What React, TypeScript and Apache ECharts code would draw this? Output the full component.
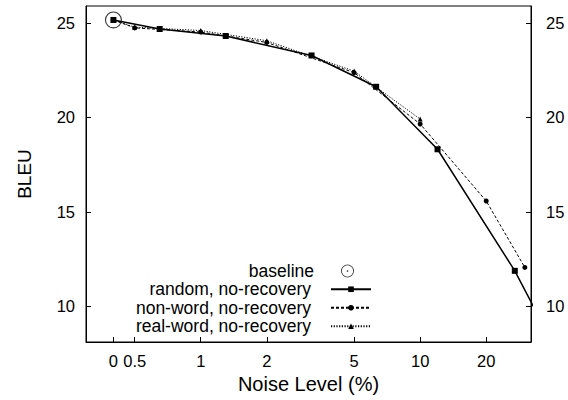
import React, { useEffect, useRef } from "react";
import * as echarts from "echarts";

// Noise level 0 is drawn at this position on the log axis
const ZERO_POS = 0.4;

const xTickValues = [0, 0.5, 1, 2, 5, 10, 20];
const yTickValues = [10, 15, 20, 25];

const baselineX = [0];
const baselineY = [25.16];

const randomX = [0, 0.65, 1.3, 3.2, 6.3, 12, 27, 50];
const randomY = [25.16, 24.68, 24.31, 23.28, 21.62, 18.31, 11.87, 5.9];

const nonWordX = [0, 0.5, 1, 2, 5, 10, 20, 30];
const nonWordY = [25.16, 24.74, 24.52, 23.97, 22.37, 19.65, 15.57, 12.05];

const realWordX = [0, 0.5, 1, 2, 5, 10];
const realWordY = [25.16, 24.78, 24.6, 24.06, 22.45, 19.91];

const pos = (v: number) => (v === 0 ? ZERO_POS : v);
const pairs = (xs: number[], ys: number[]) => xs.map((x, i) => [pos(x), ys[i]]);

const FONT = "Liberation Sans";
const RING =
  "path://M10,0 A10,10 0 1,1 10,20 A10,10 0 1,1 10,0 Z M10,1.3 A8.7,8.7 0 1,0 10,18.7 A8.7,8.7 0 1,0 10,1.3 Z M10,8.7 A1.3,1.3 0 1,1 10,11.3 A1.3,1.3 0 1,1 10,8.7 Z";

export default function App() {
  const ref = useRef<HTMLDivElement>(null);
  useEffect(() => {
    if (!ref.current) return;
    const chart = echarts.init(ref.current, undefined, { renderer: "svg" });
    const yAxisCommon = {
      type: "value" as const,
      min: 8.1,
      max: 25.9,
      splitLine: { show: false },
      axisLine: { show: true, lineStyle: { color: "#000", width: 1 } },
      axisTick: { show: true, inside: true, length: 5, customValues: yTickValues, lineStyle: { color: "#000" } },
    };
    chart.setOption({
      animation: false,
      backgroundColor: "#fff",
      textStyle: { fontFamily: FONT, color: "#000" },
      grid: { left: 86, right: 37, top: 6, bottom: 58, show: true, borderColor: "#000", borderWidth: 1, containLabel: false },
      xAxis: {
        type: "log",
        min: 0.3,
        max: 32,
        name: "Noise Level (%)",
        nameLocation: "middle",
        nameGap: 30,
        nameTextStyle: { fontFamily: FONT, fontSize: 20, color: "#000" },
        splitLine: { show: false },
        axisLine: { show: true, lineStyle: { color: "#000", width: 1 } },
        axisTick: { show: true, inside: true, length: 5, customValues: xTickValues.map(pos), lineStyle: { color: "#000" } },
        axisLabel: {
          customValues: xTickValues.map(pos),
          margin: 10,
          fontFamily: FONT,
          fontSize: 16.5,
          color: "#000",
          formatter: (v: number) => (Math.abs(v - ZERO_POS) < 0.01 ? "0" : String(Math.round(v * 10) / 10)),
        },
      },
      yAxis: [
        {
          ...yAxisCommon,
          position: "left",
          name: "BLEU",
          nameLocation: "middle",
          nameGap: 52,
          nameRotate: 90,
          nameTextStyle: { fontFamily: FONT, fontSize: 19, color: "#000" },
          axisLabel: { customValues: yTickValues, margin: 11, fontFamily: FONT, fontSize: 16.5, color: "#000" },
        },
        {
          ...yAxisCommon,
          position: "right",
          axisLabel: { customValues: yTickValues, margin: 15, fontFamily: FONT, fontSize: 16.5, color: "#000" },
        },
      ],
      legend: [
        {
          data: ["baseline"],
          orient: "vertical",
          align: "right",
          right: 214,
          top: 262,
          padding: 0,
          itemGap: 0,
          itemWidth: 13,
          itemHeight: 13,
          icon: RING,
          textStyle: { fontFamily: FONT, fontSize: 17.5, color: "#000", lineHeight: 16, padding: [0, 22, 0, 0] },
        },
        {
          data: ["random, no-recovery", "non-word, no-recovery", "real-word, no-recovery"],
          orient: "vertical",
          align: "right",
          right: 196,
          top: 280,
          padding: 0,
          itemGap: 0,
          itemWidth: 40,
          itemHeight: 7,
          textStyle: { fontFamily: FONT, fontSize: 17.5, color: "#000", lineHeight: 18.5, padding: [0, 15, 0, 0] },
        },
      ],
      series: [
        {
          name: "baseline",
          type: "scatter",
          data: pairs(baselineX, baselineY),
          symbol: RING,
          symbolSize: 17,
          itemStyle: { color: "#000" },
          z: 5,
        },
        {
          name: "non-word, no-recovery",
          type: "line",
          data: pairs(nonWordX, nonWordY),
          symbol: "circle",
          symbolSize: 5,
          clip: true,
          itemStyle: { color: "#000" },
          lineStyle: { color: "#000", width: 1, type: [3, 2] },
          z: 3,
        },
        {
          name: "real-word, no-recovery",
          type: "line",
          data: pairs(realWordX, realWordY),
          symbol: "triangle",
          symbolSize: 5,
          clip: true,
          itemStyle: { color: "#000" },
          lineStyle: { color: "#000", width: 1, type: [1.2, 1.5] },
          z: 2,
        },
        {
          name: "random, no-recovery",
          type: "line",
          data: pairs(randomX, randomY),
          symbol: "rect",
          symbolSize: 6,
          clip: true,
          itemStyle: { color: "#000" },
          lineStyle: { color: "#000", width: 1.5, type: "solid" },
          z: 4,
        },
      ],
    });
    return () => chart.dispose();
  }, []);
  return <div ref={ref} style={{ position: "fixed", left: 0, top: 0, width: 568, height: 400 }} />;
}
